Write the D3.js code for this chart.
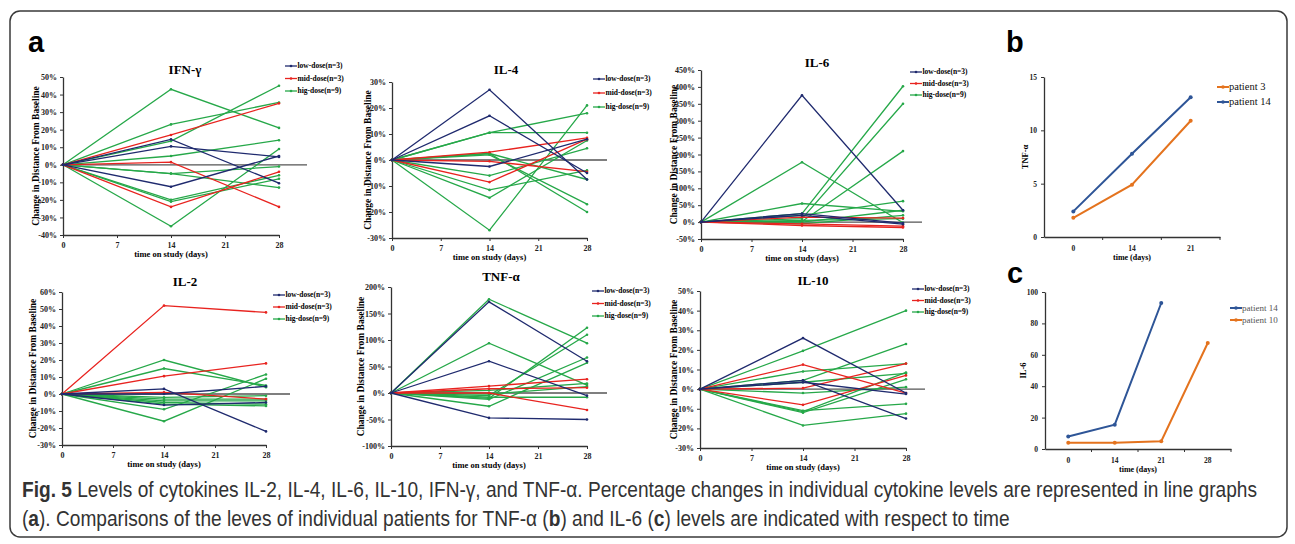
<!DOCTYPE html>
<html>
<head>
<meta charset="utf-8">
<script src="https://cdn.jsdelivr.net/npm/d3@7"></script>
<style>
  body { margin: 0; background: #fff; }
  svg text { font-family: "Liberation Serif", "DejaVu Serif", serif; }
</style>
</head>
<body>
<svg id="fig"></svg>
<script>
const width = 1295;
const height = 544;

// --- data: % change from baseline at day 0, 14, 28 (one row per patient) ---
const days = [0, 14, 28];
const xTicks = [0, 7, 14, 21, 28];
const groupNames = ["low-dose(n=3)", "mid-dose(n=3)", "hig-dose(n=9)"];

const ifnLow = [[0, 14.5, -10.5], [0, 10.5, 4.5], [0, -12.5, 5]];
const ifnMid = [[0, 17, 35], [0, 1.5, -24], [0, -24, -4]];
const ifnHigh = [[0, 43, 21], [0, 23, 35.5], [0, 13.5, 45], [0, 5, 14], [0, -5, -1],
  [0, -5, -13], [0, -20, -6], [0, -21, -8], [0, -35, 9]];

const il4Low = [[0, 27, -7.5], [0, 17, -5], [0, -2.5, 8]];
const il4Mid = [[0, 3, 8.5], [0, -0.5, -4.5], [0, -8.5, 8]];
const il4High = [[0, 10.5, 18], [0, 10.5, 10.5], [0, 2.5, -7.5], [0, 2, -17], [0, 2.5, -20],
  [0, -6, 4.5], [0, -11.5, -4], [0, -14.5, 7.5], [0, -27, 21]];

const il6Low = [[0, 375, 35], [0, 25, -3], [0, 20, -6]];
const il6Mid = [[0, 15, 12], [0, -5, -12], [0, -10, -16]];
const il6High = [[0, 177, -2], [0, 55, 32], [0, 25, 402], [0, 10, 350], [0, 2, 210],
  [0, 20, 62], [0, 0, 35], [0, -5, 20], [0, 5, 10]];

const il2Low = [[0, 3, -22], [0, 0, 4.5], [0, -6.5, -5]];
const il2Mid = [[0, 52, 48], [0, 10.5, 18], [0, 1, -3]];
const il2High = [[0, 20, 4], [0, 15, 5], [0, -9, 11.5], [0, -16, 9], [0, -2, -1],
  [0, -4, -4], [0, -5, -6], [0, -6, -7], [0, -3, -3]];

const tnfLow = [[0, 172, 60], [0, 60, -5], [0, -47, -50]];
const tnfMid = [[0, 13, 26], [0, 8, 10], [0, 0, -32]];
const tnfHigh = [[0, 177, 94], [0, 94, 15], [0, -10, 123], [0, -5, 110], [0, -12, 67],
  [0, -25, 57], [0, 5, 18], [0, -2, 12], [0, -8, -8]];

const il10Low = [[0, 26, -2], [0, 4.5, -15], [0, 3.5, -2.5]];
const il10Mid = [[0, 12.5, -2], [0, 0.5, 13], [0, -8, 7]];
const il10High = [[0, 19.5, 40], [0, 4.5, 23], [0, 9, 13], [0, 3.5, 8], [0, -2, 1],
  [0, -11.5, 8.5], [0, -11, -7.5], [0, -12, 5], [0, -18.5, -12.5]];

// panel b: TNF-a
const bDays = ["0", "14", "21"];
const bPatient3 = [1.8, 4.9, 10.9];
const bPatient14 = [2.4, 7.8, 13.1];
// panel c: IL-6
const cDays = ["0", "14", "21", "28"];
const cPatient14 = [8, 15.5, 93];
const cPatient10 = [4, 4, 5, 67.5];

// caption pieces: [text, bold]
const caption1 = [["Fig. 5", true],
  [" Levels of cytokines IL-2, IL-4, IL-6, IL-10, IFN-γ, and TNF-α. Percentage changes in individual cytokine levels are represented in line graphs", false]];
const caption2 = [["(", false], ["a", true], ["). Comparisons of the leves of individual patients for TNF-α (", false],
  ["b", true], [") and IL-6 (", false], ["c", true], [") levels are indicated with respect to time", false]];

// --- colours ---
const groupColors = ["#1f2a6e", "#e8231f", "#26a849"];
const blue = "#2e5597";
const orange = "#e4731e";

const svg = d3.select("#fig")
  .attr("width", width)
  .attr("height", height)
  .attr("viewBox", [0, 0, width, height]);

svg.append("rect")
  .attr("x", 10).attr("y", 11)
  .attr("width", 1277).attr("height", 526)
  .attr("rx", 10)
  .attr("fill", "#fff")
  .attr("stroke", "#3a3a3a")
  .attr("stroke-width", 1.5);

// --- layout of the six small panels (a) ---
const panels = [
  { title: "IFN-γ", series: [ifnLow, ifnMid, ifnHigh], yDomain: [-40, 50], step: 10,
    x: [63, 279], y: [235, 77], zeroEnd: 307, titleAt: [185, 74], legend: [285, 66, 12.5], yLabelX: 36 },
  { title: "IL-4", series: [il4Low, il4Mid, il4High], yDomain: [-30, 30], step: 10,
    x: [392, 587], y: [238, 82], zeroEnd: 607, titleAt: [506, 74], legend: [593, 79, 14], yLabelX: 368 },
  { title: "IL-6", series: [il6Low, il6Mid, il6High], yDomain: [-50, 450], step: 50,
    x: [701, 903], y: [239, 70], zeroEnd: 922, titleAt: [817, 67], legend: [910, 72, 11.5], yLabelX: 674 },
  { title: "IL-2", series: [il2Low, il2Mid, il2High], yDomain: [-30, 60], step: 10,
    x: [62, 266], y: [445, 292], zeroEnd: 290, titleAt: [185, 286], legend: [273, 295, 12], yLabelX: 33 },
  { title: "TNF-α", series: [tnfLow, tnfMid, tnfHigh], yDomain: [-100, 200], step: 50,
    x: [391, 587], y: [446, 287], zeroEnd: 607, titleAt: [501, 281], legend: [592, 291, 12.5], yLabelX: 361 },
  { title: "IL-10", series: [il10Low, il10Mid, il10High], yDomain: [-30, 50], step: 10,
    x: [700, 906], y: [448, 291], zeroEnd: 925, titleAt: [813, 285], legend: [912, 289, 11.5], yLabelX: 674 }
];

const styleAxis = (g, size) => {
  g.selectAll("text").attr("font-size", size).attr("font-weight", "bold")
    .attr("font-family", "Liberation Serif, serif").attr("fill", "#222");
  g.select(".domain").attr("stroke", "#333").attr("stroke-width", 1.3);
  g.selectAll(".tick line").attr("stroke", "#333").attr("stroke-width", 1);
};

panels.forEach(p => {
  const g = svg.append("g");
  const x = d3.scaleLinear().domain([0, 28]).range(p.x);
  const y = d3.scaleLinear().domain(p.yDomain).range(p.y);
  const yTicks = d3.range(p.yDomain[0], p.yDomain[1] + p.step / 2, p.step);

  g.append("g")
    .attr("transform", `translate(${p.x[0]},0)`)
    .call(d3.axisLeft(y).tickValues(yTicks).tickSize(3).tickSizeOuter(0).tickPadding(3).tickFormat(d => d + "%"))
    .call(a => styleAxis(a, 8));

  g.append("g")
    .attr("transform", `translate(0,${p.y[0]})`)
    .call(d3.axisBottom(x).tickValues(xTicks).tickSize(3).tickSizeOuter(0).tickPadding(4))
    .call(a => styleAxis(a, 8));

  // zero reference line
  g.append("line")
    .attr("x1", p.x[0]).attr("x2", p.zeroEnd)
    .attr("y1", y(0)).attr("y2", y(0))
    .attr("stroke", "#555").attr("stroke-width", 1.3);

  const line = d3.line().x((d, i) => x(days[i])).y(d => y(d));

  // draw high, mid, then low on top
  [2, 1, 0].forEach(gi => {
    const color = groupColors[gi];
    p.series[gi].forEach(row => {
      g.append("path")
        .attr("d", line(row))
        .attr("fill", "none")
        .attr("stroke", color)
        .attr("stroke-width", 1.3);
      g.selectAll(null)
        .data(row)
        .join("circle")
        .attr("cx", (d, i) => x(days[i]))
        .attr("cy", d => y(d))
        .attr("r", 1.3)
        .attr("fill", color);
    });
  });

  g.append("text")
    .attr("x", p.titleAt[0]).attr("y", p.titleAt[1])
    .attr("text-anchor", "middle")
    .attr("font-size", 13).attr("font-weight", "bold")
    .text(p.title);

  g.append("text")
    .attr("x", (p.x[0] + p.x[1]) / 2).attr("y", p.y[0] + 22)
    .attr("text-anchor", "middle")
    .attr("font-size", 8.5).attr("font-weight", "bold")
    .text("time on study (days)");

  g.append("text")
    .attr("transform", `translate(${p.yLabelX},${(p.y[0] + p.y[1]) / 2}) rotate(-90)`)
    .attr("text-anchor", "middle")
    .attr("dy", "0.35em")
    .attr("font-size", 9.5).attr("font-weight", "bold")
    .text("Change in Distance From Baseline");

  // legend
  const [lx, ly, lgap] = p.legend;
  groupNames.forEach((name, i) => {
    const yy = ly + i * lgap;
    g.append("line")
      .attr("x1", lx).attr("x2", lx + 12)
      .attr("y1", yy).attr("y2", yy)
      .attr("stroke", groupColors[i]).attr("stroke-width", 1.3);
    g.append("circle").attr("cx", lx + 6).attr("cy", yy).attr("r", 1.3).attr("fill", groupColors[i]);
    g.append("text")
      .attr("x", lx + 12.5).attr("y", yy)
      .attr("dy", "0.32em")
      .attr("font-size", 7.5).attr("font-weight", "bold")
      .text(name);
  });
});

// --- panels b and c: individual patients ---
const drawPatients = (cfg) => {
  const g = svg.append("g");
  const x = d3.scaleBand().domain(cfg.cats).range(cfg.x);
  const y = d3.scaleLinear().domain(cfg.yDomain).range(cfg.y);

  g.append("g")
    .attr("transform", `translate(${cfg.x[0]},0)`)
    .call(d3.axisLeft(y).tickValues(cfg.yTicks).tickSize(3).tickSizeOuter(0).tickPadding(4))
    .call(a => styleAxis(a, 7.5));

  const xa = g.append("g")
    .attr("transform", `translate(0,${cfg.y[0]})`)
    .call(d3.axisBottom(x).tickSize(0).tickSizeOuter(0).tickPadding(9))
    .call(a => styleAxis(a, 7.5));
  // category boundary ticks, as in the spreadsheet chart
  xa.selectAll(".bound")
    .data(cfg.cats)
    .join("line")
    .attr("class", "bound")
    .attr("x1", d => x(d) + x.bandwidth()).attr("x2", d => x(d) + x.bandwidth())
    .attr("y1", 0).attr("y2", 3)
    .attr("stroke", "#333");

  g.append("text")
    .attr("x", (cfg.x[0] + cfg.x[1]) / 2).attr("y", cfg.y[0] + 23)
    .attr("text-anchor", "middle")
    .attr("font-size", 8).attr("font-weight", "bold")
    .text("time (days)");

  g.append("text")
    .attr("transform", `translate(${cfg.yLabelX},${(cfg.y[0] + cfg.y[1]) / 2}) rotate(-90)`)
    .attr("text-anchor", "middle")
    .attr("dy", "0.35em")
    .attr("font-size", 8.5).attr("font-weight", "bold")
    .text(cfg.yLabel);

  cfg.lines.forEach((s, i) => {
    const line = d3.line().x((d, j) => x(cfg.cats[j]) + x.bandwidth() / 2).y(d => y(d));
    g.append("path")
      .attr("d", line(s.values))
      .attr("fill", "none")
      .attr("stroke", s.color)
      .attr("stroke-width", 2);
    g.selectAll(null)
      .data(s.values)
      .join("circle")
      .attr("cx", (d, j) => x(cfg.cats[j]) + x.bandwidth() / 2)
      .attr("cy", d => y(d))
      .attr("r", 2)
      .attr("fill", s.color);

    const yy = cfg.legend[1] + i * cfg.legend[2];
    g.append("line")
      .attr("x1", cfg.legend[0]).attr("x2", cfg.legend[0] + 12)
      .attr("y1", yy).attr("y2", yy)
      .attr("stroke", s.color).attr("stroke-width", 2);
    g.append("circle").attr("cx", cfg.legend[0] + 6).attr("cy", yy).attr("r", 1.8).attr("fill", s.color);
    g.append("text")
      .attr("x", cfg.legend[0] + 12).attr("y", yy)
      .attr("dy", "0.32em")
      .attr("font-size", cfg.legendSize)
      .attr("fill", cfg.legendColor)
      .text(s.name);
  });
};

drawPatients({
  cats: bDays, x: [1044, 1220], yDomain: [0, 15], y: [237, 77], yTicks: [0, 5, 10, 15],
  yLabel: "TNF-α", yLabelX: 1025, legend: [1217, 87, 15], legendSize: 10.5, legendColor: "#111",
  lines: [{ name: "patient 3", values: bPatient3, color: orange },
          { name: "patient 14", values: bPatient14, color: blue }]
});

drawPatients({
  cats: cDays, x: [1045, 1231], yDomain: [0, 100], y: [449, 292], yTicks: d3.range(0, 101, 20),
  yLabel: "IL-6", yLabelX: 1023, legend: [1230, 308, 12], legendSize: 9, legendColor: "#555",
  lines: [{ name: "patient 14", values: cPatient14, color: blue },
          { name: "patient 10", values: cPatient10, color: orange }]
});

// --- panel letters ---
const letters = [["a", 28, 52], ["b", 1006, 52], ["c", 1007, 283]];
letters.forEach(([t, lx, ly]) => {
  svg.append("text")
    .attr("x", lx).attr("y", ly)
    .attr("font-size", 29).attr("font-weight", "bold")
    .style("font-family", "Liberation Sans, Arial, sans-serif")
    .text(t);
});

// --- caption (condensed by a horizontal scale so the first line spans the box) ---
const capFont = "'Liberation Sans', Arial, sans-serif";
const capLines = [caption1, caption2].map((parts, i) => {
  const gCap = svg.append("g");
  const t = gCap.append("text")
    .attr("x", 0).attr("y", 0)
    .attr("font-size", 22)
    .attr("fill", "#333")
    .style("font-family", capFont);
  parts.forEach(([s, b]) => t.append("tspan").attr("font-weight", b ? "bold" : "normal").text(s));
  return { g: gCap, t, y: 497 + i * 29 };
});
const sx = 1236 / capLines[0].t.node().getComputedTextLength();
capLines.forEach(c => c.g.attr("transform", `translate(22,${c.y}) scale(${sx},1)`));
</script>
</body>
</html>
